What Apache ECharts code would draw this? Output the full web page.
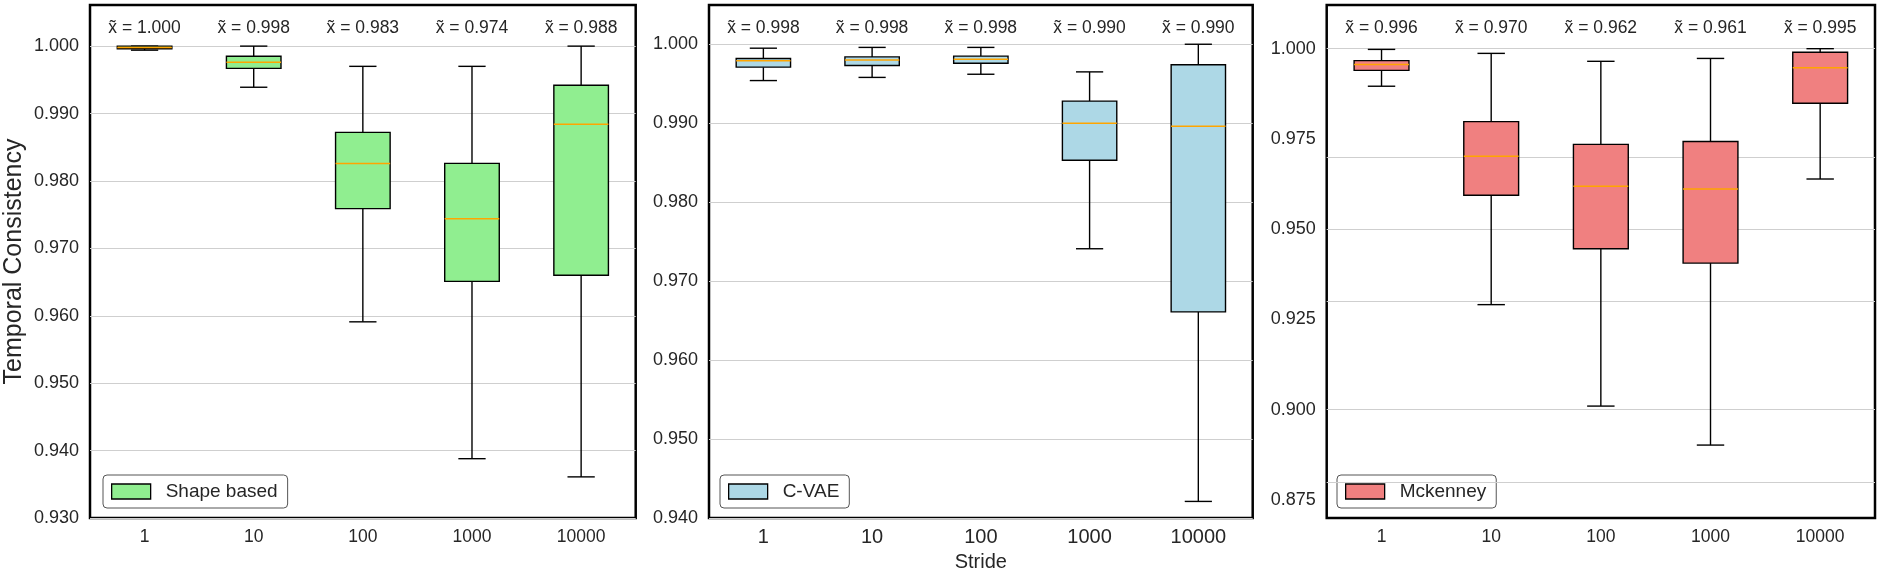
<!DOCTYPE html>
<html>
<head>
<meta charset="utf-8">
<script src="https://cdn.jsdelivr.net/npm/echarts@6/dist/echarts.min.js"></script>
<style>
html,body{margin:0;padding:0;background:#fff;}
#chart{width:1880px;height:580px;}
</style>
</head>
<body>
<div id="chart"></div>
<script>
const categories = ['1', '10', '100', '1000', '10000'];

const shapeLow  = [0.9994, 0.9939, 0.9591, 0.9388, 0.9361];
const shapeQ1   = [0.9996, 0.9967, 0.9759, 0.9651, 0.9660];
const shapeMed  = [0.9998, 0.9976, 0.9826, 0.9744, 0.9884];
const shapeQ3   = [1.0000, 0.9985, 0.9872, 0.9826, 0.9942];
const shapeHigh = [1.0000, 1.0000, 0.9970, 0.9970, 1.0000];

const cvaeLow  = [0.9954, 0.9958, 0.9962, 0.9741, 0.9421];
const cvaeQ1   = [0.9971, 0.9973, 0.9976, 0.9853, 0.9661];
const cvaeMed  = [0.9979, 0.9980, 0.9981, 0.9900, 0.9896];
const cvaeQ3   = [0.9982, 0.9984, 0.9985, 0.9928, 0.9974];
const cvaeHigh = [0.9995, 0.9996, 0.9996, 0.9965, 1.0000];

const mckLow  = [0.9896, 0.9291, 0.9010, 0.8902, 0.9639];
const mckQ1   = [0.9940, 0.9594, 0.9446, 0.9406, 0.9849];
const mckMed  = [0.9956, 0.9702, 0.9619, 0.9611, 0.9947];
const mckQ3   = [0.9967, 0.9798, 0.9735, 0.9743, 0.9990];
const mckHigh = [0.9998, 0.9987, 0.9965, 0.9973, 1.0000];

const shapeTicks = [0.930, 0.940, 0.950, 0.960, 0.970, 0.980, 0.990, 1.000];
const cvaeTicks  = [0.940, 0.950, 0.960, 0.970, 0.980, 0.990, 1.000];
const mckTicks   = [0.875, 0.900, 0.925, 0.950, 0.975, 1.000];

const seriesNames = ['Shape based', 'C-VAE', 'Mckenney'];
const yLabel = 'Temporal Consistency';
const xLabel = 'Stride';

const FONT = "'Liberation Sans', Arial, sans-serif";
const TXT = '#262626';
const fills = ['#90EE90', '#ADD8E6', '#F08080'];

function rows(lo, q1, md, q3, hi) {
  return categories.map((c, i) => [i, lo[i], q1[i], md[i], q3[i], hi[i]]);
}
const panelData = [
  rows(shapeLow, shapeQ1, shapeMed, shapeQ3, shapeHigh),
  rows(cvaeLow, cvaeQ1, cvaeMed, cvaeQ3, cvaeHigh),
  rows(mckLow, mckQ1, mckMed, mckQ3, mckHigh)
];
const panelTicks = [shapeTicks, cvaeTicks, mckTicks];
const yRanges = [[0.930, 1.0061], [0.940, 1.00497], [0.870, 1.0121]];
const grids = [
  {left: 90, top: 5, width: 545.7, height: 513},
  {left: 709, top: 5, width: 543.7, height: 513},
  {left: 1326.7, top: 5, width: 548.3, height: 513}
];
const legendLeft = [103, 720, 1337];

function makeRender(fill) {
  return function (params, api) {
    const i = api.value(0);
    const pLo = api.coord([i, api.value(1)]);
    const pQ1 = api.coord([i, api.value(2)]);
    const pMd = api.coord([i, api.value(3)]);
    const pQ3 = api.coord([i, api.value(4)]);
    const pHi = api.coord([i, api.value(5)]);
    const band = api.size([1, 0])[0];
    const bw = band * 0.5, cw = band * 0.25;
    const cx = pMd[0];
    const ls = {stroke: '#000', lineWidth: 1.4};
    return {
      type: 'group',
      children: [
        {type: 'line', shape: {x1: cx, y1: pQ1[1], x2: cx, y2: pLo[1]}, style: ls},
        {type: 'line', shape: {x1: cx, y1: pQ3[1], x2: cx, y2: pHi[1]}, style: ls},
        {type: 'line', shape: {x1: cx - cw / 2, y1: pLo[1], x2: cx + cw / 2, y2: pLo[1]}, style: ls},
        {type: 'line', shape: {x1: cx - cw / 2, y1: pHi[1], x2: cx + cw / 2, y2: pHi[1]}, style: ls},
        {type: 'rect', shape: {x: cx - bw / 2, y: pQ3[1], width: bw, height: Math.max(pQ1[1] - pQ3[1], 0.5)},
          style: {fill: fill, stroke: '#000', lineWidth: 1.4}},
        {type: 'line', shape: {x1: cx - bw / 2, y1: pMd[1], x2: cx + bw / 2, y2: pMd[1]},
          style: {stroke: '#FFA500', lineWidth: 1.5}},
        {type: 'text', x: cx, y: params.coordSys.y + 23,
          style: {text: 'x\u0303 = ' + api.value(3).toFixed(3), align: 'center', verticalAlign: 'middle',
            fontSize: 17.5, fontFamily: FONT, fill: TXT}}
      ]
    };
  };
}

const option = {
  animation: false,
  backgroundColor: '#fff',
  grid: grids.map(g => Object.assign({show: true, borderColor: '#000', borderWidth: 2.5, backgroundColor: 'transparent'}, g)),
  xAxis: [0, 1, 2].map(k => ({
    type: 'category', gridIndex: k, data: categories, boundaryGap: true,
    axisLine: {show: false}, axisTick: {show: false}, splitLine: {show: false},
    axisLabel: {fontSize: k === 1 ? 20 : 17.5, color: TXT, fontFamily: FONT, margin: k === 1 ? 9 : 10},
    name: k === 1 ? xLabel : '', nameLocation: 'middle', nameGap: 34,
    nameTextStyle: {fontSize: 20, color: TXT, fontFamily: FONT}
  })),
  yAxis: [0, 1, 2].map(k => ({
    type: 'value', gridIndex: k, min: yRanges[k][0], max: yRanges[k][1],
    axisLine: {show: false}, axisTick: {show: false}, splitLine: {show: false},
    axisLabel: {customValues: panelTicks[k], formatter: v => Number(v).toFixed(3),
      fontSize: 18, color: TXT, fontFamily: FONT, margin: 11},
    name: k === 0 ? yLabel : '', nameLocation: 'middle', nameGap: 63, nameRotate: 90,
    nameTextStyle: {fontSize: 25, color: TXT, fontFamily: FONT}
  })),
  legend: [0, 1, 2].map(k => ({
    left: legendLeft[k], top: 475, orient: 'horizontal', selectedMode: false,
    data: [{name: seriesNames[k], icon: 'rect',
      itemStyle: {color: fills[k], borderColor: '#000', borderWidth: 1.3}}],
    itemWidth: 39, itemHeight: 15,
    padding: [7, 10, 7, 8],
    borderColor: '#555', borderWidth: 1, borderRadius: 4, backgroundColor: '#fff',
    textStyle: {fontSize: 19, color: TXT, fontFamily: FONT, padding: [0, 0, 0, 10], lineHeight: 19}
  })),
  series: []
};

[0, 1, 2].forEach(k => {
  option.series.push({
    name: 'grid' + k, type: 'line', xAxisIndex: k, yAxisIndex: k, data: [], z: 1,
    silent: true,
    markLine: {silent: true, symbol: ['none', 'none'], label: {show: false},
      lineStyle: {color: '#cfcfcf', width: 1.2, type: 'solid'},
      emphasis: {disabled: true},
      data: panelTicks[k].map(v => ({yAxis: v}))}
  });
  option.series.push({
    name: seriesNames[k], type: 'custom', xAxisIndex: k, yAxisIndex: k, z: 10,
    itemStyle: {color: fills[k]},
    encode: {x: 0, y: [1, 2, 3, 4, 5]},
    renderItem: makeRender(fills[k]),
    data: panelData[k]
  });
});

const chart = echarts.init(document.getElementById('chart'));
chart.setOption(option);
</script>
</body>
</html>
